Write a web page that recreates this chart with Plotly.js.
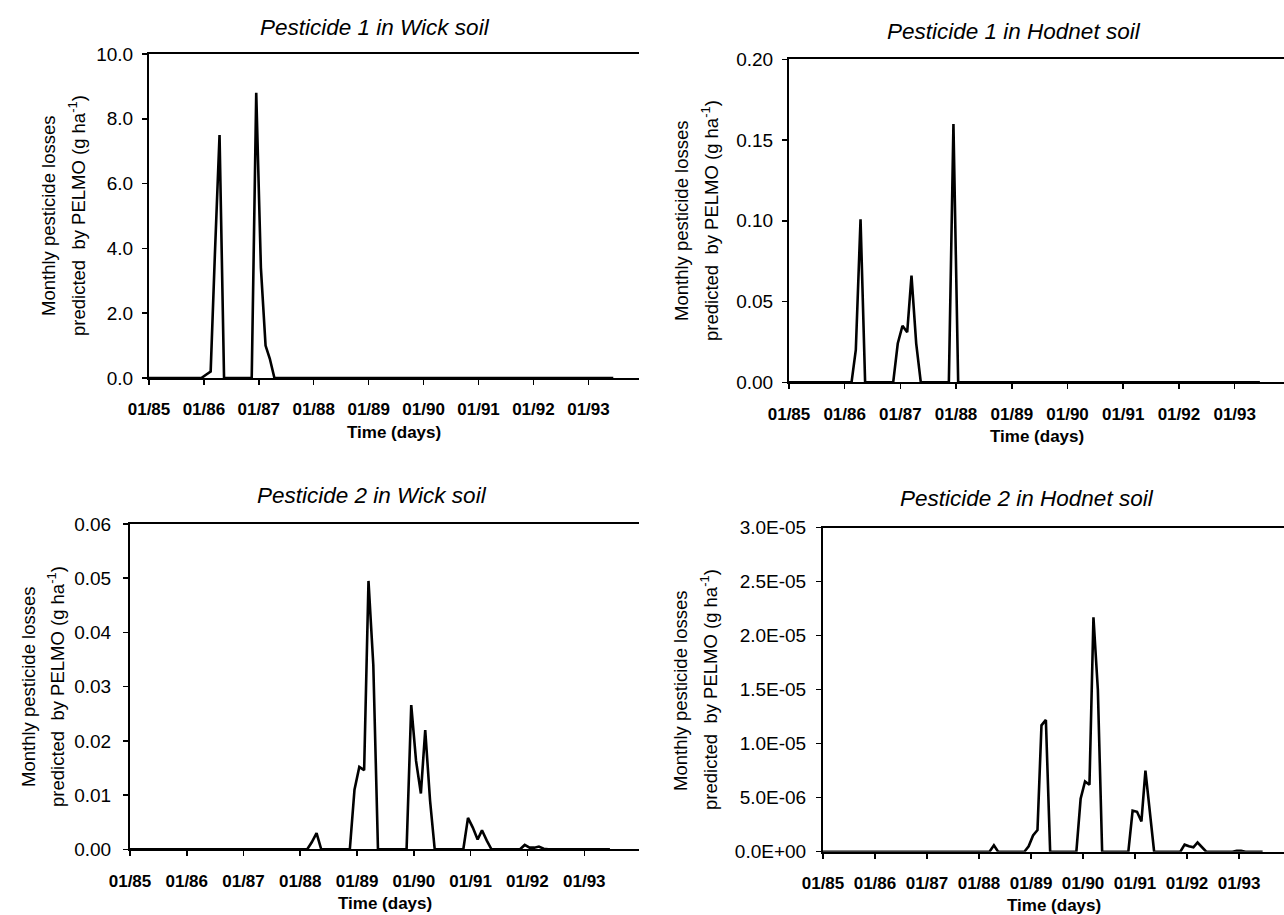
<!DOCTYPE html>
<html>
<head>
<meta charset="utf-8">
<script src="https://cdn.plot.ly/plotly-3.0.1.min.js"></script>
<style>html,body{margin:0;padding:0;background:#fff;}#chart{width:1284px;height:915px;}</style>
</head>
<body>
<div id="chart"></div>
<script>
// ---- Data (monthly values) ----
const panelTitles = ["Pesticide 1 in Wick soil", "Pesticide 1 in Hodnet soil", "Pesticide 2 in Wick soil", "Pesticide 2 in Hodnet soil"];

const p1Dates = ["1985-01-01","1985-12-15","1986-01-15","1986-02-15","1986-03-15","1986-04-15","1986-05-15","1986-11-15","1986-12-15","1987-01-15","1987-02-15","1987-03-15","1987-04-15","1993-06-15"];
const p1Values = [0, 0, 0.1, 0.2, 3.8, 7.5, 0, 0, 8.8, 3.4, 1.0, 0.6, 0, 0];

const p2Dates = ["1985-01-01","1986-02-15","1986-03-15","1986-04-15","1986-05-15","1986-11-15","1986-12-15","1987-01-15","1987-02-15","1987-03-15","1987-04-15","1987-05-15","1987-11-15","1987-12-15","1988-01-15","1993-06-15"];
const p2Values = [0, 0, 0.02, 0.101, 0, 0, 0.024, 0.035, 0.031, 0.066, 0.024, 0, 0, 0.16, 0, 0];

const p3Dates = ["1985-01-01","1988-02-15","1988-03-15","1988-04-15","1988-05-15","1988-11-15","1988-12-15","1989-01-15","1989-02-15","1989-03-15","1989-04-15","1989-05-15","1989-11-15","1989-12-15","1990-01-15","1990-02-15","1990-03-15","1990-04-15","1990-05-15","1990-11-15","1990-12-15","1991-01-15","1991-02-15","1991-03-15","1991-04-15","1991-05-15","1991-11-15","1991-12-15","1992-01-15","1992-02-15","1992-03-15","1992-04-15","1992-05-15","1993-06-15"];
const p3Values = [0, 0, 0.0013, 0.003, 0, 0, 0.011, 0.0152, 0.0146, 0.0495, 0.034, 0, 0, 0.0266, 0.0163, 0.0103, 0.022, 0.009, 0, 0, 0.0058, 0.004, 0.0018, 0.0035, 0.0016, 0, 0, 0.0008, 0.0003, 0.0003, 0.0005, 0.0001, 0, 0];

const p4Dates = ["1985-01-01","1988-03-15","1988-04-15","1988-05-15","1988-11-15","1988-12-15","1989-01-15","1989-02-15","1989-03-15","1989-04-15","1989-05-15","1989-11-15","1989-12-15","1990-01-15","1990-02-15","1990-03-15","1990-04-15","1990-05-15","1990-11-15","1990-12-15","1991-01-15","1991-02-15","1991-03-15","1991-04-15","1991-05-15","1991-11-15","1991-12-15","1992-01-15","1992-02-15","1992-03-15","1992-04-15","1992-05-15","1992-11-15","1992-12-15","1993-01-15","1993-02-15","1993-06-15"];
const p4Values = [0, 0, 0.6e-6, 0, 0, 0.5e-6, 1.5e-6, 2.0e-6, 1.17e-5, 1.22e-5, 0, 0, 4.9e-6, 6.5e-6, 6.2e-6, 2.17e-5, 1.5e-5, 0, 0, 3.8e-6, 3.7e-6, 2.8e-6, 7.5e-6, 3.6e-6, 0, 0, 0.65e-6, 0.5e-6, 0.4e-6, 0.85e-6, 0.4e-6, 0, 0, 0.08e-6, 0.08e-6, 0, 0];

const p4TickVals = [0, 5e-6, 1e-5, 1.5e-5, 2e-5, 2.5e-5, 3e-5];
const p4TickText = ["0.0E+00","5.0E-06","1.0E-05","1.5E-05","2.0E-05","2.5E-05","3.0E-05"];

const yTitleLine1 = "Monthly pesticide losses";
const yTitleLine2 = "predicted\u00a0 by PELMO (g ha<sup>-1</sup>)";
const xTitle = "Time (days)";

// ---- Layout helpers ----
const W = 1284, H = 915;
const FONT = "Liberation Sans, Arial, sans-serif";
const px = v => v / W;
const py = v => 1 - v / H;

const lineStyle = {color: "black", width: 2.6};
const traces = [
  {x: p1Dates, y: p1Values, xaxis: "x", yaxis: "y"},
  {x: p2Dates, y: p2Values, xaxis: "x2", yaxis: "y2"},
  {x: p3Dates, y: p3Values, xaxis: "x3", yaxis: "y3"},
  {x: p4Dates, y: p4Values, xaxis: "x4", yaxis: "y4"}
].map(t => Object.assign(t, {type: "scatter", mode: "lines", line: lineStyle, hoverinfo: "skip"}));

// pixel geometry of each plot area: [left, right, top, bottom], x-range end, y-label standoff
const geo = [
  {l: 149, r: 639, t: 54, b: 378, xEnd: "1993-12-03", ys: 5},
  {l: 789, r: 1284, t: 59.3, b: 382.3, xEnd: "1993-11-20", ys: 5},
  {l: 130, r: 639, t: 524, b: 849.3, xEnd: "1993-12-19", ys: 8},
  {l: 823, r: 1284, t: 527.7, b: 851.7, xEnd: "1993-11-12", ys: 6}
];

function xAxis(g, anchor) {
  return {
    type: "date", domain: [px(g.l), px(g.r)], anchor: anchor,
    range: ["1985-01-01", g.xEnd], tick0: "1985-01-01", dtick: "M12", tickformat: "%m/%y",
    showline: true, linecolor: "black", linewidth: 2, mirror: true,
    ticks: "outside", ticklen: 5, tickwidth: 1.5, tickcolor: "black",
    showgrid: false, zeroline: false, ticklabelstandoff: 10,
    tickfont: {family: FONT, size: 17, color: "black", weight: "bold"}
  };
}
function yAxis(g, anchor, extra) {
  return Object.assign({
    domain: [py(g.b), py(g.t)], anchor: anchor,
    showline: true, linecolor: "black", linewidth: 2, mirror: false,
    ticks: "outside", ticklen: 5, tickwidth: 1.5, tickcolor: "black",
    showgrid: false, zeroline: false, ticklabelstandoff: g.ys,
    tickfont: {family: FONT, size: 19, color: "black"}
  }, extra);
}

const layout = {
  width: W, height: H, margin: {l: 0, r: 0, t: 0, b: 0},
  paper_bgcolor: "white", plot_bgcolor: "white", showlegend: false,
  xaxis: xAxis(geo[0], "y"),
  xaxis2: xAxis(geo[1], "y2"),
  xaxis3: xAxis(geo[2], "y3"),
  xaxis4: xAxis(geo[3], "y4"),
  yaxis: yAxis(geo[0], "x", {range: [0, 10], dtick: 2, tick0: 0, tickformat: ".1f"}),
  yaxis2: yAxis(geo[1], "x2", {range: [0, 0.2], dtick: 0.05, tick0: 0, tickformat: ".2f"}),
  yaxis3: yAxis(geo[2], "x3", {range: [0, 0.06], dtick: 0.01, tick0: 0, tickformat: ".2f"}),
  yaxis4: yAxis(geo[3], "x4", {range: [0, 3e-5], tickmode: "array", tickvals: p4TickVals, ticktext: p4TickText}),
  annotations: []
};

const ann = (text, x, y, opts) => Object.assign({
  text: text, x: px(x), y: py(y), xref: "paper", yref: "paper",
  xanchor: "center", yanchor: "middle", showarrow: false,
  font: {family: FONT, size: 18, color: "black"}
}, opts || {});

// subplot titles
const titlePos = [[375, 28], [1014, 32], [372, 496], [1027, 498]];
titlePos.forEach((p, i) => layout.annotations.push(ann(panelTitles[i], p[0], p[1], {font: {family: FONT, size: 22.5, color: "black", style: "italic"}})));

// y-axis titles (two rotated lines)
const yTitlePos = [[49, 77, 216], [682, 710, 221], [28, 56, 687], [680, 709, 690]];
yTitlePos.forEach(p => {
  layout.annotations.push(ann(yTitleLine1, p[0], p[2], {textangle: -90, font: {family: FONT, size: 18.5, color: "black"}}));
  layout.annotations.push(ann(yTitleLine2, p[1], p[2], {textangle: -90, font: {family: FONT, size: 18.5, color: "black"}}));
});

// x-axis titles
geo.forEach(g => layout.annotations.push(ann(xTitle, (g.l + g.r) / 2, g.b + 54, {font: {family: FONT, size: 17, color: "black", weight: "bold"}})));

Plotly.newPlot("chart", traces, layout, {staticPlot: true, displayModeBar: false});
</script>
</body>
</html>
